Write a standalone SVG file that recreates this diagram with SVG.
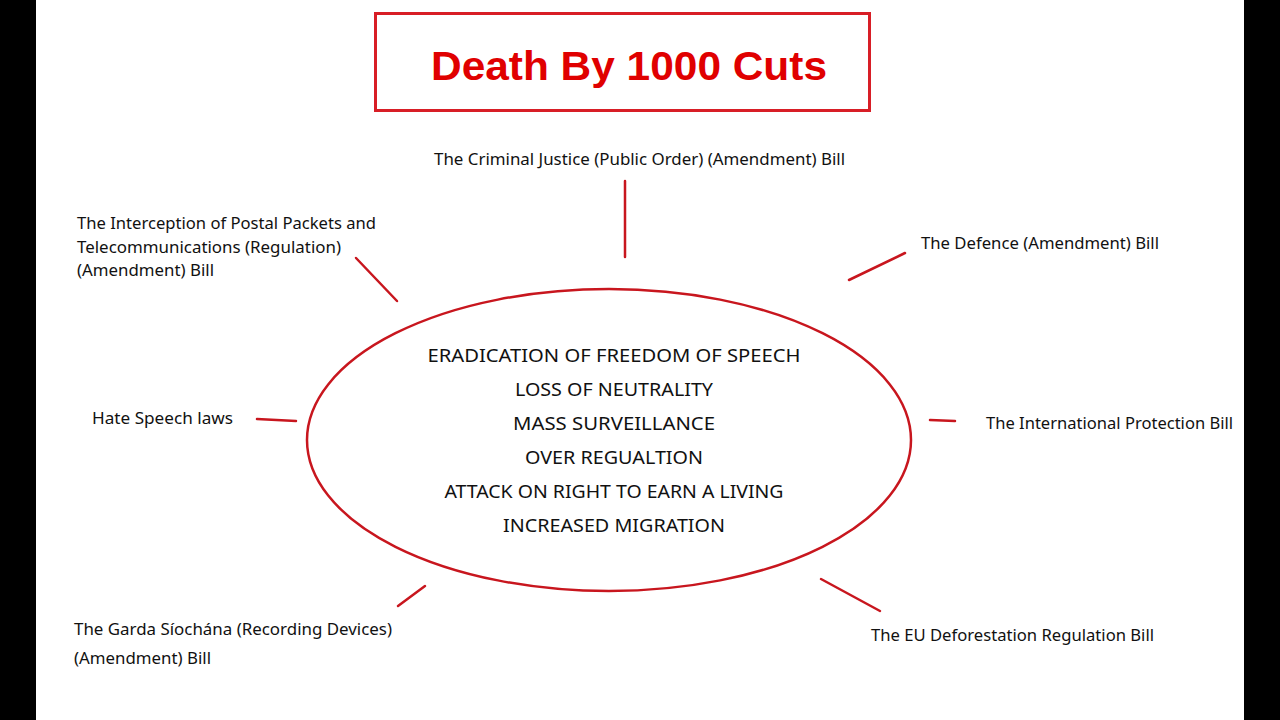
<svg xmlns="http://www.w3.org/2000/svg" width="1280" height="720" viewBox="0 0 1280 720">
<style>
.bar{fill:#000}
.lbl{font-family:"Noto Sans","Open Sans","Liberation Sans",sans-serif;font-size:15.5px;fill:#111}
.mid{font-family:"Noto Sans","Open Sans","Liberation Sans",sans-serif;font-size:18px;fill:#111;text-anchor:middle}
.cut{stroke:#c8161e;stroke-width:2.5;stroke-linecap:round;fill:none}
</style>
<rect width="1280" height="720" fill="#fff"/>
<rect class="bar" x="0" y="0" width="36" height="720"/>
<rect class="bar" x="1244" y="0" width="36" height="720"/>
<g id="title">
<rect x="375.5" y="13.5" width="494" height="97" fill="#fff" stroke="#d81e26" stroke-width="3"/>
<text x="629" y="80" text-anchor="middle" font-family="Liberation Sans, Arial, sans-serif" font-weight="bold" font-size="40" fill="#e00000" textLength="396" lengthAdjust="spacingAndGlyphs">Death By 1000 Cuts</text>
</g>
<g id="center">
<ellipse cx="609" cy="440" rx="302" ry="151" fill="#fff" stroke="#c8161e" stroke-width="2.5"/>
<text class="mid" x="614" y="362" textLength="373" lengthAdjust="spacingAndGlyphs">ERADICATION OF FREEDOM OF SPEECH</text>
<text class="mid" x="614" y="396" textLength="198" lengthAdjust="spacingAndGlyphs">LOSS OF NEUTRALITY</text>
<text class="mid" x="614" y="430" textLength="202" lengthAdjust="spacingAndGlyphs">MASS SURVEILLANCE</text>
<text class="mid" x="614" y="464" textLength="178" lengthAdjust="spacingAndGlyphs">OVER REGUALTION</text>
<text class="mid" x="614" y="498" textLength="339" lengthAdjust="spacingAndGlyphs">ATTACK ON RIGHT TO EARN A LIVING</text>
<text class="mid" x="614" y="532" textLength="222" lengthAdjust="spacingAndGlyphs">INCREASED MIGRATION</text>
</g>
<g id="connectors">
<line class="cut" x1="625" y1="181" x2="625" y2="257"/>
<line class="cut" x1="356" y1="258" x2="397" y2="301"/>
<line class="cut" x1="849" y1="280" x2="905" y2="253"/>
<line class="cut" x1="930" y1="420" x2="955" y2="421"/>
<line class="cut" x1="257" y1="419" x2="296" y2="421"/>
<line class="cut" x1="398" y1="606" x2="425" y2="586"/>
<line class="cut" x1="821" y1="579" x2="880" y2="611"/>
</g>
<g id="criminal-justice">
<text class="lbl" x="434" y="165" textLength="411" lengthAdjust="spacingAndGlyphs">The Criminal Justice (Public Order) (Amendment) Bill</text>
</g>
<g id="interception">
<text class="lbl" x="77" y="229" textLength="299" lengthAdjust="spacingAndGlyphs">The Interception of Postal Packets and</text>
<text class="lbl" x="77" y="253" textLength="264" lengthAdjust="spacingAndGlyphs">Telecommunications (Regulation)</text>
<text class="lbl" x="77" y="276" textLength="137" lengthAdjust="spacingAndGlyphs">(Amendment) Bill</text>
</g>
<g id="defence">
<text class="lbl" x="921" y="249" textLength="238" lengthAdjust="spacingAndGlyphs">The Defence (Amendment) Bill</text>
</g>
<g id="international">
<text class="lbl" x="986" y="429" textLength="247" lengthAdjust="spacingAndGlyphs">The International Protection Bill</text>
</g>
<g id="hate-speech">
<text class="lbl" x="92" y="424" textLength="141" lengthAdjust="spacingAndGlyphs">Hate Speech laws</text>
</g>
<g id="garda">
<text class="lbl" x="74" y="635" textLength="318" lengthAdjust="spacingAndGlyphs">The Garda Síochána (Recording Devices)</text>
<text class="lbl" x="74" y="664" textLength="137" lengthAdjust="spacingAndGlyphs">(Amendment) Bill</text>
</g>
<g id="eu-deforestation">
<text class="lbl" x="871" y="641" textLength="283" lengthAdjust="spacingAndGlyphs">The EU Deforestation Regulation Bill</text>
</g>
</svg>
